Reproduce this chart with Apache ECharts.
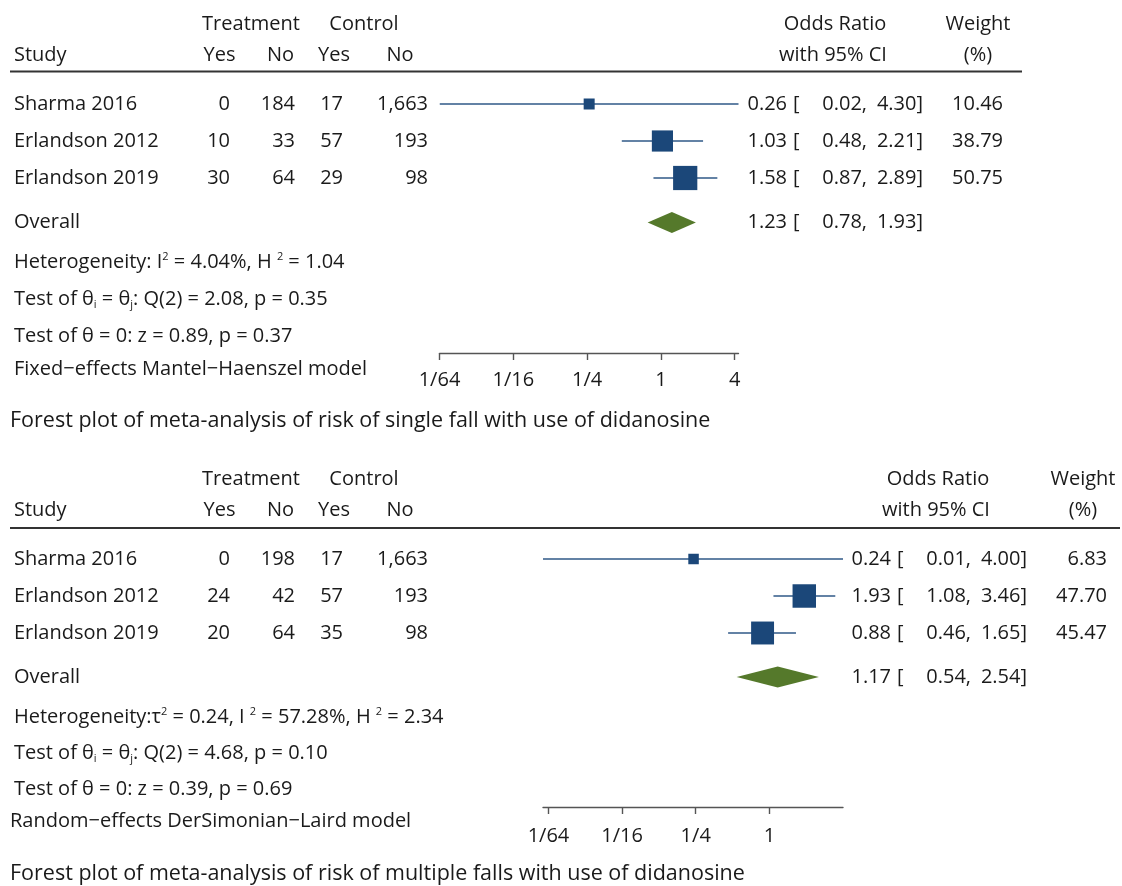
<!DOCTYPE html>
<html>
<head>
<meta charset="utf-8">
<script src="https://cdn.jsdelivr.net/npm/echarts@6/dist/echarts.min.js"></script>
<style>
  html, body { margin: 0; padding: 0; background: #fff; }
  #chart { width: 1122px; height: 886px; }
</style>
</head>
<body>
<div id="chart"></div>
<script>
// ---- Study data -------------------------------------------------------
const studies = ['Sharma 2016', 'Erlandson 2012', 'Erlandson 2019'];

// Single fall
const singleTreatYes = [0, 10, 30];
const singleTreatNo  = [184, 33, 64];
const singleCtrlYes  = [17, 57, 29];
const singleCtrlNo   = [1663, 193, 98];
const singleOR       = [0.26, 1.03, 1.58];
const singleLow      = [0.0157, 0.48, 0.87];
const singleHigh     = [4.30, 2.21, 2.89];
const singleWeight   = [10.46, 38.79, 50.75];
const singleOverall  = [1.23, 0.78, 1.93];   // OR, low, high
const singleStats = [
  'Heterogeneity: I{sup|2} = 4.04%, H {sup|2} = 1.04',
  'Test of θ{sub|i} = θ{sub|j}: Q(2) = 2.08, p = 0.35',
  'Test of θ = 0: z = 0.89, p = 0.37',
  'Fixed−effects Mantel−Haenszel model'
];
const singleCaption = 'Forest plot of meta-analysis of risk of single fall with use of didanosine';

// Multiple falls
const multiTreatYes = [0, 24, 20];
const multiTreatNo  = [198, 42, 64];
const multiCtrlYes  = [17, 57, 35];
const multiCtrlNo   = [1663, 193, 98];
const multiOR       = [0.24, 1.93, 0.88];
const multiLow      = [0.0141, 1.08, 0.46];
const multiHigh     = [4.00, 3.46, 1.65];
const multiWeight   = [6.83, 47.70, 45.47];
const multiOverall  = [1.17, 0.54, 2.54];
const multiStats = [
  'Heterogeneity:τ{sup|2} = 0.24, I {sup|2} = 57.28%, H {sup|2} = 2.34',
  'Test of θ{sub|i} = θ{sub|j}: Q(2) = 4.68, p = 0.10',
  'Test of θ = 0: z = 0.39, p = 0.69',
  'Random−effects DerSimonian−Laird model'
];
const multiCaption = 'Forest plot of meta-analysis of risk of multiple falls with use of didanosine';

// Axis ticks (odds ratio, log base 4)
const singleTickValues = [1 / 64, 1 / 16, 1 / 4, 1, 4];
const singleTickLabels = ['1/64', '1/16', '1/4', '1', '4'];
const multiTickValues  = [1 / 64, 1 / 16, 1 / 4, 1];
const multiTickLabels  = ['1/64', '1/16', '1/4', '1'];

// ---- Styling ------------------------------------------------------------
const FONT = '"Open Sans", "Noto Sans", sans-serif';
const FS = 20;
const CAPTION_FS = 21.5;
const TXT = '#1a1a1a';
const BOX_COLOR = '#1b4779';
const CI_COLOR = '#2f5887';
const DIAMOND_COLOR = '#55792b';
const BOX_K = 3.4, MIN_BOX = 10.5;

const panels = [
  {
    treatYes: singleTreatYes, treatNo: singleTreatNo, ctrlYes: singleCtrlYes, ctrlNo: singleCtrlNo,
    or: singleOR, low: singleLow, high: singleHigh, weight: singleWeight, overall: singleOverall,
    stats: singleStats, caption: singleCaption,
    ticks: singleTickValues, tickLabels: singleTickLabels,
    axisMin: 1 / 64, axisMax: 4.30,
    layout: {
      head1: 24, head2: 55, rule: 71.5, ruleEnd: 1022, row1: 104, step: 37, overallRow: 4.2,
      axisY: 353, gridLeft: 439.5, gridWidth: 299,
      stats: [262, 299, 336, 369], caption: 421,
      orRight: 787, bracket: 793, lowRight: 867, highRight: 923, wRight: 1003,
      orHead: 835, wHead: 978
    }
  },
  {
    treatYes: multiTreatYes, treatNo: multiTreatNo, ctrlYes: multiCtrlYes, ctrlNo: multiCtrlNo,
    or: multiOR, low: multiLow, high: multiHigh, weight: multiWeight, overall: multiOverall,
    stats: multiStats, caption: multiCaption,
    ticks: multiTickValues, tickLabels: multiTickLabels,
    axisMin: 0.0141, axisMax: 4.00,
    layout: {
      head1: 479, head2: 510, rule: 528, ruleEnd: 1120, row1: 559, step: 37, overallRow: 4.19,
      axisY: 807, gridLeft: 543, gridWidth: 300,
      stats: [717, 753, 789, 821], caption: 874,
      orRight: 891, bracket: 897, lowRight: 971, highRight: 1027, wRight: 1107,
      orHead: 938, wHead: 1083
    }
  }
];

// Column positions of the 2x2 table counts
const COLS = {
  studyX: 14,
  treatYesRight: 230, treatNoRight: 295, ctrlYesRight: 343, ctrlNoRight: 428,
  treatYesHead: 219.5, treatNoHead: 280.5, ctrlYesHead: 334, ctrlNoHead: 400,
  treatHead: 251, ctrlHead: 364
};

const fmt2 = v => v.toFixed(2);
const fmtCount = v => v.toLocaleString('en-US');

function txt(text, x, y, align, extra) {
  return {
    type: 'text', silent: true,
    style: Object.assign({
      text: text, x: x, y: y,
      fill: TXT, fontFamily: FONT, fontSize: FS,
      align: align || 'left', verticalAlign: 'middle'
    }, extra || {})
  };
}

const richStyles = {
  sup: { fontFamily: FONT, fontSize: 11, lineHeight: 12, verticalAlign: 'top', fill: TXT },
  sub: { fontFamily: FONT, fontSize: 11, lineHeight: 12, verticalAlign: 'bottom', fill: TXT }
};

const graphics = [];
const grids = [], xAxes = [], yAxes = [], series = [];

panels.forEach((p, k) => {
  const L = p.layout;
  // column headers
  graphics.push(txt('Treatment', COLS.treatHead, L.head1, 'center'));
  graphics.push(txt('Control', COLS.ctrlHead, L.head1, 'center'));
  graphics.push(txt('Study', COLS.studyX, L.head2, 'left'));
  graphics.push(txt('Yes', COLS.treatYesHead, L.head2, 'center'));
  graphics.push(txt('No', COLS.treatNoHead, L.head2, 'center'));
  graphics.push(txt('Yes', COLS.ctrlYesHead, L.head2, 'center'));
  graphics.push(txt('No', COLS.ctrlNoHead, L.head2, 'center'));
  graphics.push(txt('Odds Ratio', L.orHead, L.head1, 'center'));
  graphics.push(txt('with 95% CI', L.orHead - 2, L.head2, 'center'));
  graphics.push(txt('Weight', L.wHead, L.head1, 'center'));
  graphics.push(txt('(%)', L.wHead, L.head2, 'center'));
  graphics.push({
    type: 'line', silent: true,
    shape: { x1: 10, y1: L.rule, x2: L.ruleEnd, y2: L.rule },
    style: { stroke: '#333', lineWidth: 2 }
  });

  // study rows
  studies.forEach((name, i) => {
    const y = L.row1 + i * L.step;
    graphics.push(txt(name, COLS.studyX, y, 'left'));
    graphics.push(txt(fmtCount(p.treatYes[i]), COLS.treatYesRight, y, 'right'));
    graphics.push(txt(fmtCount(p.treatNo[i]), COLS.treatNoRight, y, 'right'));
    graphics.push(txt(fmtCount(p.ctrlYes[i]), COLS.ctrlYesRight, y, 'right'));
    graphics.push(txt(fmtCount(p.ctrlNo[i]), COLS.ctrlNoRight, y, 'right'));
    graphics.push(txt(fmt2(p.or[i]), L.orRight, y, 'right'));
    graphics.push(txt('[', L.bracket, y, 'left'));
    graphics.push(txt(fmt2(p.low[i]) + ',', L.lowRight, y, 'right'));
    graphics.push(txt(fmt2(p.high[i]) + ']', L.highRight, y, 'right'));
    graphics.push(txt(fmt2(p.weight[i]), L.wRight, y, 'right'));
  });

  // overall row
  const yo = L.row1 + (L.overallRow - 1) * L.step;
  graphics.push(txt('Overall', COLS.studyX, yo, 'left'));
  graphics.push(txt(fmt2(p.overall[0]), L.orRight, yo, 'right'));
  graphics.push(txt('[', L.bracket, yo, 'left'));
  graphics.push(txt(fmt2(p.overall[1]) + ',', L.lowRight, yo, 'right'));
  graphics.push(txt(fmt2(p.overall[2]) + ']', L.highRight, yo, 'right'));

  // heterogeneity and test statistics
  p.stats.forEach((s, j) => {
    graphics.push(txt(s, j === 3 && k === 1 ? 10 : 14, L.stats[j], 'left',
      { rich: richStyles, lineHeight: 22 }));
  });
  graphics.push(txt(p.caption, 10, L.caption, 'left', { fontSize: CAPTION_FS }));

  // plotting region (log-scale odds ratio axis)
  const gridTop = L.row1 - L.step;
  const gridHeight = L.axisY - gridTop;
  grids.push({ left: L.gridLeft, width: L.gridWidth, top: gridTop, height: gridHeight, containLabel: false });
  xAxes.push({
    type: 'log', logBase: 4, gridIndex: k, position: 'bottom',
    min: p.axisMin, max: p.axisMax,
    axisLine: { show: true, onZero: false, lineStyle: { color: '#555', width: 1.4 } },
    axisTick: { show: true, customValues: p.ticks, length: 7, lineStyle: { color: '#555', width: 1.4 } },
    axisLabel: {
      show: true, customValues: p.ticks, margin: k === 0 ? 17 : 19, hideOverlap: false,
      color: TXT, fontFamily: FONT, fontSize: FS,
      formatter: v => {
        let best = 0;
        p.ticks.forEach((t, i) => {
          if (Math.abs(Math.log(t) - Math.log(v)) < Math.abs(Math.log(p.ticks[best]) - Math.log(v))) best = i;
        });
        return p.tickLabels[best];
      }
    },
    splitLine: { show: false }
  });
  yAxes.push({ type: 'value', gridIndex: k, show: false, inverse: true, min: 0, max: gridHeight / L.step });

  const rows = studies.map((_, i) => [p.or[i], p.low[i], p.high[i], p.weight[i], i + 1]);
  series.push({
    type: 'custom', xAxisIndex: k, yAxisIndex: k, silent: true, clip: false,
    encode: { x: [0, 1, 2], y: 4 },
    data: rows,
    renderItem: (params, api) => {
      const row = api.value(4);
      const c = api.coord([api.value(0), row]);
      const a = api.coord([api.value(1), row]);
      const b = api.coord([api.value(2), row]);
      const s = Math.max(MIN_BOX, BOX_K * Math.sqrt(api.value(3)));
      return {
        type: 'group',
        children: [
          { type: 'line', shape: { x1: a[0], y1: a[1], x2: b[0], y2: b[1] },
            style: { stroke: CI_COLOR, lineWidth: 1.6 } },
          { type: 'rect', shape: { x: c[0] - s / 2, y: c[1] - s / 2, width: s, height: s },
            style: { fill: BOX_COLOR } }
        ]
      };
    }
  });
  series.push({
    type: 'custom', xAxisIndex: k, yAxisIndex: k, silent: true, clip: false,
    encode: { x: [0, 1, 2], y: 3 },
    data: [[p.overall[0], p.overall[1], p.overall[2], L.overallRow]],
    renderItem: (params, api) => {
      const row = api.value(3);
      const c = api.coord([api.value(0), row]);
      const a = api.coord([api.value(1), row]);
      const b = api.coord([api.value(2), row]);
      const h = 10.5;
      return {
        type: 'polygon',
        shape: { points: [[a[0], a[1]], [c[0], c[1] - h], [b[0], b[1]], [c[0], c[1] + h]] },
        style: { fill: DIAMOND_COLOR }
      };
    }
  });
});

const chart = echarts.init(document.getElementById('chart'), null, { renderer: 'canvas' });
chart.setOption({
  animation: false,
  backgroundColor: '#fff',
  grid: grids,
  xAxis: xAxes,
  yAxis: yAxes,
  series: series,
  graphic: { elements: graphics }
});
</script>
</body>
</html>
